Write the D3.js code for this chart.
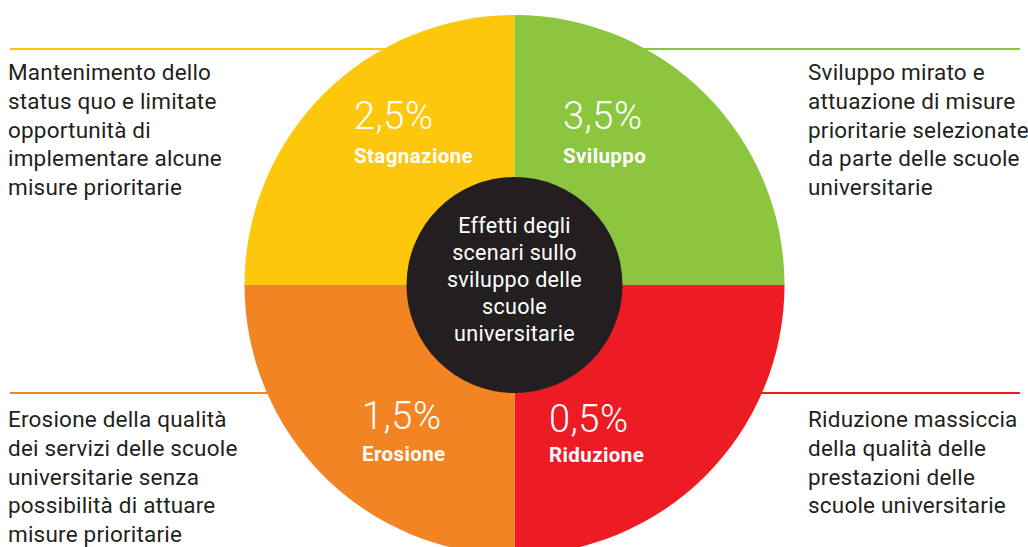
<!DOCTYPE html>
<html>
<head>
<meta charset="utf-8">
<script src="https://cdn.jsdelivr.net/npm/d3@7"></script>
<style>
html,body{margin:0;padding:0;background:#fff;}
svg{display:block;}
</style>
</head>
<body>
<svg id="chart" width="1028" height="547"></svg>
<script>
// Data
const scenarios = ["Sviluppo", "Riduzione", "Erosione", "Stagnazione"];
const values = ["3,5%", "0,5%", "1,5%", "2,5%"];
const colors = ["#8cc63f", "#ed1c24", "#f38423", "#fdc70c"];
const descriptions = [
  ["Sviluppo mirato e", "attuazione di misure", "prioritarie selezionate", "da parte delle scuole", "universitarie"],
  ["Riduzione massiccia", "della qualità delle", "prestazioni delle", "scuole universitarie"],
  ["Erosione della qualità", "dei servizi delle scuole", "universitarie senza", "possibilità di attuare", "misure prioritarie"],
  ["Mantenimento dello", "status quo e limitate", "opportunità di", "implementare alcune", "misure prioritarie"]
];
const centerTitle = ["Effetti degli", "scenari sullo", "sviluppo delle", "scuole", "universitarie"];

const svg = d3.select("#chart");
const cx = 514.5, cy = 285, R = 270, r0 = 108;
const font = "Roboto, 'Liberation Sans', sans-serif";

const side = [1, 1, -1, -1];   // +1 right, -1 left
const vert = [-1, 1, 1, -1];   // -1 top, +1 bottom

// connector lines (behind circle)
const lineY = d => vert[d] < 0 ? 49 : 393;
svg.append("g").selectAll("line").data(d3.range(4)).join("line")
  .attr("x1", i => side[i] > 0 ? cx : 10)
  .attr("x2", i => side[i] > 0 ? 1020 : cx)
  .attr("y1", lineY).attr("y2", lineY)
  .attr("stroke", i => colors[i]).attr("stroke-width", 2);

// pie
const pie = d3.pie().sort(null).value(() => 1);
const arc = d3.arc().innerRadius(0).outerRadius(R);
const g = svg.append("g").attr("transform", `translate(${cx},${cy})`);
g.selectAll("path").data(pie(scenarios)).join("path")
  .attr("d", arc).attr("fill", (d, i) => colors[i]);

// inner circle
g.append("circle").attr("r", r0).attr("fill", "#231f20");

// center title
const lh = 27;
g.append("text").attr("text-anchor", "middle")
  .attr("font-family", font).attr("font-size", 21.5).attr("letter-spacing", 0.3).attr("fill", "#fff")
  .selectAll("tspan").data(centerTitle).join("tspan")
  .attr("x", 0).attr("y", (d, i) => -52 + i * lh).text(d => d);

// percent and scenario labels
const pctX = [563, 549, 362, 354];
const pctY = [129, 432, 429, 129];
const nameY = [163, 462, 461, 163];
svg.append("g").selectAll("text.pct").data(values).join("text")
  .attr("class", "pct")
  .attr("x", (d, i) => pctX[i]).attr("y", (d, i) => pctY[i])
  .attr("font-family", font).attr("font-weight", 300).attr("font-size", 38).attr("letter-spacing", 0.5)
  .attr("fill", "#fff").text(d => d);
svg.append("g").selectAll("text.name").data(scenarios).join("text")
  .attr("class", "name")
  .attr("x", (d, i) => pctX[i]).attr("y", (d, i) => nameY[i])
  .attr("font-family", font).attr("font-weight", 700).attr("font-size", 20.5).attr("letter-spacing", 0.4)
  .attr("fill", "#fff").text(d => d);

// descriptions
const descX = [808, 808, 8, 8];
const descY0 = [80, 427, 427, 80];
const dlh = 28.8;
descriptions.forEach((lines, i) => {
  svg.append("text").attr("font-family", font).attr("font-size", 22.5).attr("letter-spacing", 0.2)
    .attr("fill", "#231f20")
    .selectAll("tspan").data(lines).join("tspan")
    .attr("x", descX[i]).attr("y", (d, j) => descY0[i] + j * dlh).text(d => d);
});
</script>
</body>
</html>
